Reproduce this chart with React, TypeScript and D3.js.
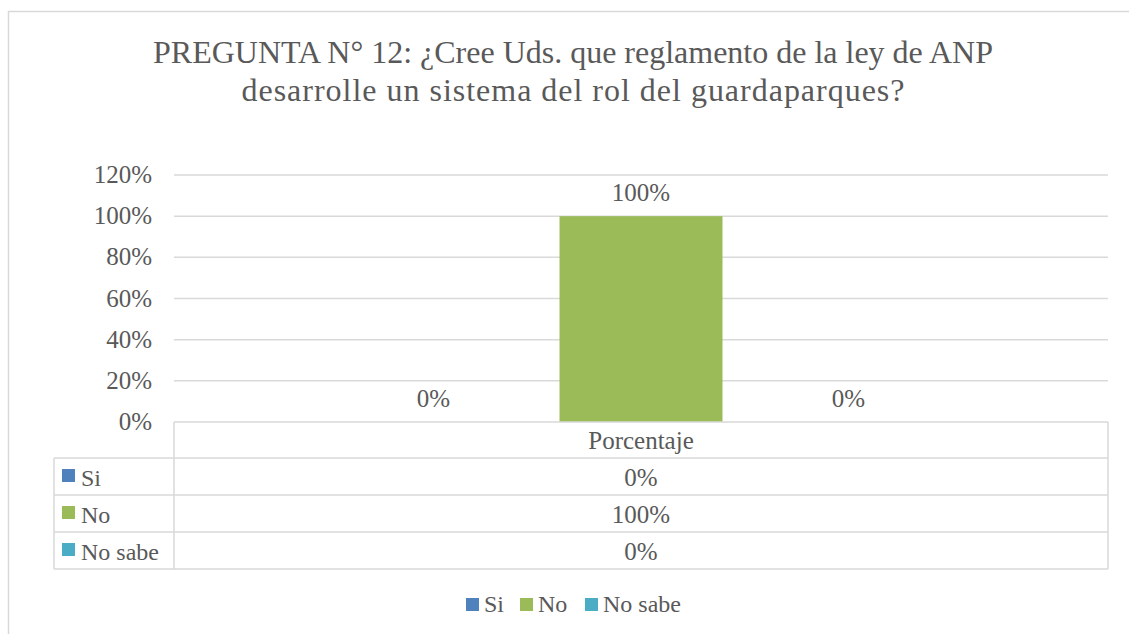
import React from 'react';
import * as d3 from 'd3';

const categories = ['Porcentaje'];
const seriesNames = ['Si', 'No', 'No sabe'];
const seriesValues = [0, 1, 0];
const seriesColors = ['#4f81bd', '#9bbb59', '#4bacc6'];
const yTicks = [0, 0.2, 0.4, 0.6, 0.8, 1.0, 1.2];
const titleLines = [
  'PREGUNTA N° 12: ¿Cree Uds. que reglamento de la ley de ANP',
  'desarrolle un sistema del rol del guardaparques?',
];
// widths of the title lines in the original (Cambria is wider than what we have)
const titleWidths = [840, 663];

const W = 1129;
const H = 634;
const font = '"Liberation Serif", serif';
const textColor = '#595959';
const lineColor = '#d9d9d9';

// plot box
const left = 174;
const right = 1108;
const top = 175;
const bottom = 422;
// table rows
const rowH = 37;
const tableLeft = 54;

const pct = d3.format('.0%');

const App = () => {
  const y = d3.scaleLinear().domain([0, 1.2]).range([bottom, top]);
  const x0 = d3.scaleBand().domain(categories).range([left, right]);

  // three bars inside the single category, step ~207px, bar ~163px
  const step = 207.5;
  const inner = 0.2145;
  const x1 = d3
    .scaleBand()
    .domain(seriesNames)
    .range([-1.5 * step, 1.5 * step])
    .paddingInner(inner)
    .paddingOuter(inner / 2);

  const cx = x0(categories[0]) + x0.bandwidth() / 2;

  const rowsTop = bottom + 36;
  const tableBottom = rowsTop + rowH * seriesNames.length;

  // legend at the bottom
  const legendItems = [
    { name: 'Si', x: 466 },
    { name: 'No', x: 520 },
    { name: 'No sabe', x: 585 },
  ];

  return (
    <svg
      width={W}
      height={H}
      style={{ position: 'absolute', left: 0, top: 0, background: '#fff' }}
      fontFamily={font}
    >
      {/* chart border */}
      <rect x={8.5} y={11.5} width={W + 10} height={H + 10} fill="#fff" stroke={lineColor} strokeWidth={1.5} />

      {/* title */}
      {titleLines.map((t, i) => (
        <text
          key={i}
          x={573}
          y={63 + i * 38}
          textAnchor="middle"
          fontSize={32}
          fill={textColor}
          textLength={titleWidths[i]}
          lengthAdjust="spacing"
        >
          {t}
        </text>
      ))}

      {/* gridlines + y axis labels */}
      {yTicks.map(t => (
        <g key={t}>
          {t > 0 && (
            <line x1={left} x2={right} y1={y(t)} y2={y(t)} stroke={lineColor} strokeWidth={1.5} />
          )}
          <text x={152} y={y(t) + 8} textAnchor="end" fontSize={25} fill={textColor}>
            {pct(t)}
          </text>
        </g>
      ))}

      {/* bars */}
      {seriesNames.map((s, i) => {
        const bx = cx + x1(s);
        const v = seriesValues[i];
        return (
          <g key={s}>
            <rect x={bx} y={y(v)} width={x1.bandwidth()} height={bottom - y(v)} fill={seriesColors[i]} />
            <text
              x={bx + x1.bandwidth() / 2}
              y={y(v) - 15}
              textAnchor="middle"
              fontSize={25}
              fill={textColor}
            >
              {pct(v)}
            </text>
          </g>
        );
      })}

      {/* data table */}
      <g stroke={lineColor} strokeWidth={1.5}>
        <line x1={left} x2={right} y1={bottom} y2={bottom} />
        {seriesNames.map((s, i) => (
          <line key={s} x1={tableLeft} x2={right} y1={rowsTop + i * rowH} y2={rowsTop + i * rowH} />
        ))}
        <line x1={tableLeft} x2={right} y1={tableBottom} y2={tableBottom} />
        <line x1={left} x2={left} y1={bottom} y2={tableBottom} />
        <line x1={right} x2={right} y1={bottom} y2={tableBottom} />
        <line x1={tableLeft} x2={tableLeft} y1={rowsTop} y2={tableBottom} />
      </g>
      <text x={cx} y={bottom + 27} textAnchor="middle" fontSize={25} fill={textColor}>
        {categories[0]}
      </text>
      {seriesNames.map((s, i) => {
        const ry = rowsTop + i * rowH;
        return (
          <g key={s}>
            <rect x={62} y={ry + 11} width={13} height={13} fill={seriesColors[i]} />
            <text x={81} y={ry + 28} fontSize={24} fill={textColor}>
              {s}
            </text>
            <text x={cx} y={ry + 28} textAnchor="middle" fontSize={25} fill={textColor}>
              {pct(seriesValues[i])}
            </text>
          </g>
        );
      })}

      {/* legend */}
      {legendItems.map((d, i) => (
        <g key={d.name}>
          <rect x={d.x} y={598} width={13} height={13} fill={seriesColors[i]} />
          <text x={d.x + 18} y={612} fontSize={24} fill={textColor}>
            {d.name}
          </text>
        </g>
      ))}
    </svg>
  );
};

export default App;
